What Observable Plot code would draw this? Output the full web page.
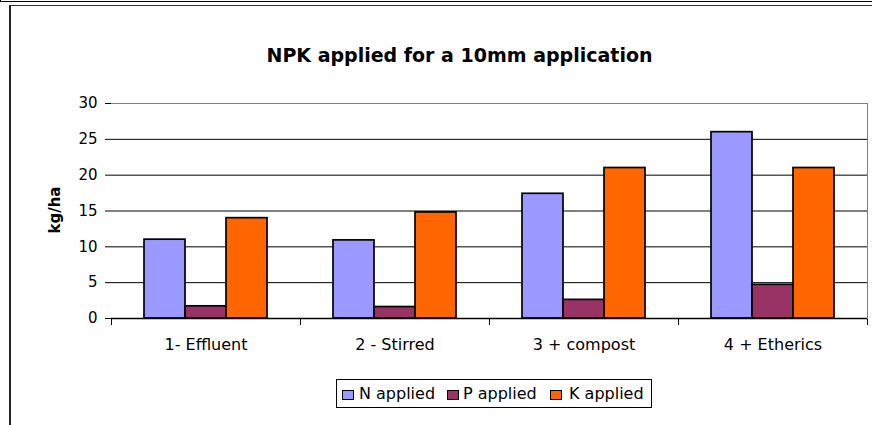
<!DOCTYPE html>
<html>
<head>
<meta charset="utf-8">
<script src="https://cdn.jsdelivr.net/npm/d3@7"></script>
<script src="https://cdn.jsdelivr.net/npm/@observablehq/plot@0.6"></script>
<style>
  html, body { margin: 0; padding: 0; background: #fff; }
  #wrap { position: relative; width: 872px; height: 425px; overflow: hidden; font-family: "DejaVu Sans", sans-serif; color: #000; }
  #chart { position: absolute; left: 0; top: 0; }
  .abs { position: absolute; }
  #title { left: 0; top: 46px; width: 919px; text-align: center; font-weight: bold; font-size: 19px; line-height: 19px; white-space: nowrap; }
  #ylabel { left: 55px; top: 210px; font-weight: bold; font-size: 15px; line-height: 15px; transform: translate(-50%, -50%) rotate(-90deg); white-space: nowrap; }
  #legend { left: 336px; top: 379px; width: 316px; height: 29px; border: 1px solid #000; box-sizing: border-box; }
  .sw { position: absolute; width: 10px; height: 8px; border: 1.5px solid #000; }
  .lt { position: absolute; font-size: 16px; line-height: 16px; white-space: nowrap; }
</style>
</head>
<body>
<div id="wrap">
  <div class="abs" style="left:0;top:1px;width:872px;height:1px;background:#000"></div>
  <div class="abs" style="left:0;top:0;width:1px;height:2px;background:#000"></div>
  <div class="abs" style="left:9px;top:5px;width:880px;height:430px;border-top:1px solid #333;border-left:2px solid #222"></div>
  <div id="chart"></div>
  <div class="abs" style="left:867px;top:103px;width:1px;height:216px;background:#808080"></div>
  <div id="title" class="abs">NPK applied for a 10mm application</div>
  <div id="ylabel" class="abs">kg/ha</div>
  <div id="legend" class="abs"></div>
</div>
<script>
const categories = ["1- Effluent", "2 - Stirred", "3 + compost", "4 + Etherics"];
const seriesNames = ["N applied", "P applied", "K applied"];
const nApplied = [11, 10.9, 17.4, 26];
const pApplied = [1.7, 1.6, 2.6, 4.7];
const kApplied = [14, 14.8, 21, 21];
const yTicks = [0, 5, 10, 15, 20, 25, 30];
const colors = ["#9999FF", "#993366", "#FF6600"];

const seriesValues = [nApplied, pApplied, kApplied];
const rows = [];
categories.forEach((c, i) => {
  seriesNames.forEach((s, j) => rows.push({cat: c, series: s, value: seriesValues[j][i]}));
});

const W = 872, H = 425, mL = 110, mR = 5, mT = 103, mB = 107;
const plotH = H - mT - mB;

const chart = Plot.plot({
  width: W, height: H,
  marginLeft: mL, marginRight: mR, marginTop: mT, marginBottom: mB,
  style: {fontFamily: "DejaVu Sans", fontSize: "16px", color: "#000", background: "transparent", overflow: "visible"},
  fx: {domain: categories, padding: 0, label: null, axis: "bottom", tickSize: 0, tickPadding: 20},
  x: {domain: seriesNames, paddingInner: 0, paddingOuter: 0.77, axis: null},
  y: {domain: [0, 30], axis: null},
  color: {domain: seriesNames, range: colors},
  marks: [
    Plot.ruleY(yTicks.filter(t => t > 0 && t < 30), {stroke: "#000"}),
    Plot.ruleY([30], {stroke: "#808080"}),
    Plot.barY(rows, {fx: "cat", x: "series", y: "value", fill: "series", stroke: "#000", strokeWidth: 1.7}),
    Plot.ruleY([0], {stroke: "#000", strokeWidth: 1.3}),
    Plot.frame({anchor: "left", stroke: "#000", insetTop: plotH, insetBottom: -6}),
    Plot.frame({anchor: "right", stroke: "#000", insetTop: plotH, insetBottom: -6}),
    Plot.axisY({ticks: yTicks, tickSize: 6, tickPadding: 8, fontSize: 15, line: true, label: null})
  ]
});
document.getElementById("chart").appendChild(chart);

// legend
const legend = document.getElementById("legend");
const swX = [5, 110, 213];
const txX = [22, 126, 232];
seriesNames.forEach((s, j) => {
  const sw = document.createElement("div");
  sw.className = "sw";
  sw.style.left = swX[j] + "px";
  sw.style.top = "10px";
  sw.style.background = colors[j];
  legend.appendChild(sw);
  const t = document.createElement("div");
  t.className = "lt";
  t.style.left = txX[j] + "px";
  t.style.top = "6px";
  t.textContent = s;
  legend.appendChild(t);
});
</script>
</body>
</html>
